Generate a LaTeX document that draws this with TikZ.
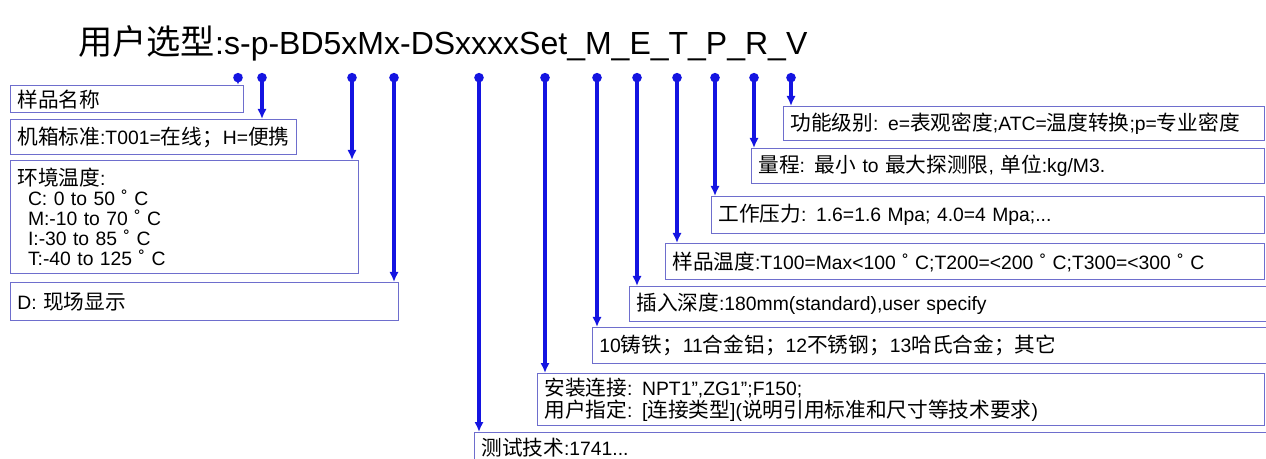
\documentclass[tikz,border=0pt]{standalone}
\usepackage{fontspec}
\setmainfont{Liberation Sans}
\newfontfamily\cjk[Scale=1.07]{Noto Sans CJK SC}
\usepackage{tikz}
\usetikzlibrary{arrows.meta}
\definecolor{pickblue}{RGB}{20,20,225}
\definecolor{boxline}{RGB}{110,110,205}
\newcommand\zh[1]{{\cjk #1}}

\begin{document}
\begin{tikzpicture}[x=0.75pt,y=-0.75pt,
	optbox/.style={draw=boxline, line width=1pt, anchor=north west, inner xsep=5pt, inner ysep=0pt, align=left, font=\fontsize{14.5pt}{15pt}\selectfont},
	pick/.style={draw=pickblue, line width=2.6pt, {Circle[length=7pt]}-{Latex[length=7.5pt,width=7pt]}}]
	\newcommand\degc{ ˚ C}
	\newcommand\qt{\symbol{"22}}
	\useasboundingbox (0,0) rectangle (1266,459);

	\node[anchor=base west, inner sep=0pt, font=\fontsize{24pt}{28pt}\selectfont] (title) at (78,55) {\zh{用户选型}:s-p-BD5xMx-DSxxxxSet\_M\_E\_T\_P\_R\_V};

	\node[optbox, text width=164.75pt, minimum height=20.25pt] (name) at (10,85) {\zh{样品名称}};
	\node[optbox, text width=204.5pt, minimum height=26.25pt] (case) at (10,119) {\zh{机箱标准}:T001=\zh{在线；}H=\zh{便携}};
	\node[optbox, text width=251pt, minimum height=84.75pt] (ambient) at (10,160) {\zh{环境温度}:\\
		\hspace*{8pt}C: 0 to 50\degc\\
		\hspace*{8pt}M:-10 to 70\degc\\
		\hspace*{8pt}I:-30 to 85\degc\\
		\hspace*{8pt}T:-40 to 125\degc};
	\node[optbox, text width=281pt, minimum height=28.5pt] (display) at (10,282) {D: \zh{现场显示}};

	\node[optbox, text width=350.75pt, minimum height=25.5pt] (func) at (783,106) {\zh{功能级别}: e=\zh{表观密度};ATC=\zh{温度转换};p=\zh{专业密度}};
	\node[optbox, text width=374.75pt, minimum height=26.25pt] (range) at (751,148) {\zh{量程}: \zh{最小} to \zh{最大探测限}, \zh{单位}:kg/M3.};
	\node[optbox, text width=404.75pt, minimum height=27.75pt] (press) at (711,196) {\zh{工作压力}: 1.6=1.6 Mpa; 4.0=4 Mpa;...};
	\node[optbox, text width=439.25pt, minimum height=27pt] (stemp) at (665,243) {\zh{样品温度}:T100=Max<100\degc;T200=<200\degc;T300=<300\degc};
	\node[optbox, text width=472.25pt, minimum height=26.25pt] (depth) at (629,286) {\zh{插入深度}:180mm(standard),user specify};
	\node[optbox, text width=500pt, minimum height=27pt] (mat) at (592,327) {10\zh{铸铁；}11\zh{合金铝；}12\zh{不锈钢；}13\zh{哈氏合金；其它}};
	\node[optbox, text width=535.25pt, minimum height=39pt] (conn) at (537,373) {\zh{安装连接}: NPT1\qt,ZG1\qt;F150;\\[2pt]
		\zh{用户指定}: [\zh{连接类型}](\zh{说明引用标准和尺寸等技术要求})};
	\node[optbox, text width=588.5pt, minimum height=23pt] (test) at (474,432) {\zh{测试技术}:1741...};
	\draw[boxline, line width=1pt] (test.south west) -- +(0,10);

	\foreach \dx/\tgt in {238/name,262/case,352/ambient,394/display,479/test,545/conn,597/mat,637/depth,677/stemp,715/press,754/range,791/func}{
		\coordinate (dot\tgt) at (\dx,73);
		\draw[pick] (dot\tgt) -- (dot\tgt |- \tgt.north);
	}
\end{tikzpicture}
\end{document}
